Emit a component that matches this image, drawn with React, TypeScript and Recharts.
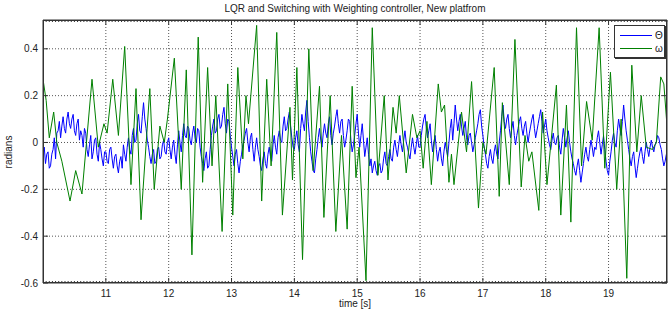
import { LineChart, Line, XAxis, YAxis, ReferenceLine, Legend } from 'recharts'

const TITLE = 'LQR and Switching with Weighting controller, New platfrom'
const X_LABEL = 'time [s]'
const Y_LABEL = 'radians'

const X_TICKS = [11, 12, 13, 14, 15, 16, 17, 18, 19]
const Y_TICKS = [-0.6, -0.4, -0.2, 0, 0.2, 0.4]
const Y_TICK_LABELS = ['-0.6', '-0.4', '-0.2', '0', '0.2', '0.4']

// omega (green), read at its peaks and troughs
const OMEGA_T = [
  10.0, 10.05, 10.1, 10.17, 10.22, 10.3, 10.43, 10.52, 10.62, 10.78, 10.88, 10.97,
  11.02, 11.11, 11.2, 11.3, 11.4, 11.48, 11.56, 11.7, 11.77, 11.86, 11.93, 11.98,
  12.09, 12.2, 12.28, 12.37, 12.47, 12.54, 12.62, 12.69, 12.75, 12.85, 12.94,
  13.02, 13.1, 13.18, 13.23, 13.27, 13.4, 13.48, 13.56, 13.63, 13.72, 13.81, 13.93, 13.97,
  14.04, 14.13, 14.23, 14.3, 14.4, 14.47, 14.57, 14.66, 14.75, 14.84, 14.92, 14.98,
  15.03, 15.14, 15.24, 15.33, 15.43, 15.49, 15.57, 15.62, 15.67, 15.78, 15.88, 15.95,
  16.0, 16.05, 16.11, 16.18, 16.29, 16.34, 16.39, 16.46, 16.5, 16.54, 16.66, 16.74, 16.82, 16.93,
  17.0, 17.05, 17.18, 17.26, 17.31, 17.42, 17.51, 17.61, 17.67, 17.73, 17.78, 17.89, 17.95,
  18.02, 18.17, 18.24, 18.33, 18.4, 18.49, 18.57, 18.65, 18.74, 18.85, 18.94,
  19.03, 19.13, 19.2, 19.29, 19.37, 19.45, 19.52, 19.6, 19.7, 19.76, 19.83, 19.88, 19.93,
]
const OMEGA_V = [
  0.27, 0.18, 0.02, 0.13, 0.0, -0.08, -0.25, -0.12, -0.22, 0.27, -0.02, 0.08,
  0.04, 0.27, 0.03, 0.41, -0.18, 0.23, -0.33, 0.23, -0.2, 0.07, 0.0, 0.1,
  0.36, -0.2, 0.31, -0.48, 0.45, -0.17, 0.32, -0.1, 0.2, -0.38, 0.25,
  -0.31, 0.32, -0.07, 0.2, 0.08, 0.5, -0.25, 0.27, -0.1, 0.47, -0.31, 0.15, -0.16,
  0.32, -0.5, 0.4, -0.12, 0.24, -0.32, 0.2, -0.38, 0.03, -0.37, 0.24, -0.15,
  -0.02, -0.59, 0.49, -0.14, 0.2, -0.16, 0.15, 0.04, 0.2, -0.13, 0.12, 0.02,
  0.05, -0.11, 0.09, -0.18, 0.25, 0.13, 0.16, -0.17, -0.05, -0.18, 0.13, -0.04, 0.26, -0.28,
  0.0, -0.05, 0.32, -0.23, 0.17, -0.18, 0.44, -0.19, 0.03, -0.08, -0.04, -0.29, 0.13,
  -0.18, 0.245, -0.31, 0.16, -0.34, 0.49, -0.1, 0.175, 0.01, 0.49, -0.11,
  0.3, -0.2, 0.1, -0.58, 0.33, -0.04, 0.2, -0.02, -0.03, 0.0, 0.28, 0.25, 0.07,
]

// theta (blue), read every 0.02 s from t = 10
const THETA_T0 = 10
const THETA_DT = 0.02
const THETA_V = [
  // 10 s
  -0.06, -0.02, -0.09, -0.05, -0.04, -0.11, -0.1, -0.05, -0.03, 0.02,
  -0.07, 0.04, 0.05, 0.09, 0.02, 0.07, 0.11, 0.06, 0.04, 0.1,
  0.13, 0.08, 0.06, 0.1, 0.12, 0.05, 0.03, 0.08, 0.1, 0.01,
  0.05, 0.03, -0.02, 0.06, 0.04, -0.03, -0.06, -0.01, 0.03, -0.07,
  -0.04, 0.01, 0.02, -0.05, -0.08, 0.0, -0.03, -0.07, -0.1, -0.04,
  // 11 s
  -0.04, -0.08, -0.09, -0.03, -0.02, -0.07, -0.11, -0.06, -0.05, -0.1,
  -0.13, -0.08, -0.06, -0.11, -0.01, -0.05, -0.08, -0.02, 0.02, -0.03,
  -0.05, 0.03, 0.06, 0.0, 0.01, 0.08, 0.12, 0.05, 0.04, 0.11,
  0.17, 0.1, 0.06, 0.01, -0.02, -0.06, -0.09, -0.05, -0.03, -0.09,
  -0.08, -0.03, -0.02, -0.07, -0.06, -0.01, 0.01, -0.04, -0.05, 0.0,
  // 12 s
  0.02, -0.03, -0.07, -0.02, 0.01, -0.05, -0.09, -0.01, 0.05, 0.0,
  -0.04, 0.03, 0.08, 0.03, 0.02, 0.07, 0.06, 0.01, -0.01, 0.04,
  0.07, 0.02, 0.0, 0.06, 0.05, -0.02, -0.06, -0.09, -0.12, -0.07,
  -0.04, -0.11, -0.1, -0.03, 0.03, 0.07, 0.1, 0.04, 0.05, 0.1,
  0.12, 0.06, 0.07, 0.12, 0.15, 0.08, 0.04, 0.1, 0.09, 0.03,
  // 13 s
  -0.02, -0.06, -0.1, -0.05, -0.03, -0.09, -0.13, -0.08, -0.05, -0.01,
  0.01, 0.04, 0.06, 0.0, -0.04, 0.02, 0.04, -0.03, -0.08, -0.02,
  0.02, -0.03, -0.06, -0.1, -0.12, -0.07, -0.04, -0.09, -0.11, -0.05,
  -0.02, -0.06, -0.08, -0.01, 0.03, -0.02, -0.05, 0.02, 0.05, 0.01,
  0.0, 0.07, 0.11, 0.05, 0.06, 0.1, 0.13, 0.07, 0.02, -0.02,
  // 14 s
  -0.03, 0.02, 0.05, -0.01, -0.04, 0.06, 0.12, 0.08, 0.05, 0.13,
  0.18, 0.09, 0.02, -0.04, -0.08, -0.12, -0.13, -0.07, -0.03, 0.02,
  0.06, 0.01, -0.02, 0.04, 0.08, 0.04, 0.02, 0.08, 0.11, 0.03,
  -0.01, 0.04, 0.07, 0.11, 0.14, 0.08, 0.04, 0.09, 0.1, 0.03,
  -0.02, 0.01, 0.05, 0.1, 0.09, 0.01, -0.04, -0.01, 0.03, 0.08,
  // 15 s
  0.12, 0.04, -0.02, 0.03, 0.08, 0.01, -0.06, -0.02, 0.02, -0.05,
  -0.1, -0.07, -0.13, -0.1, -0.08, -0.12, -0.14, -0.1, -0.09, -0.13,
  -0.12, -0.07, -0.04, -0.09, -0.1, -0.06, -0.03, -0.07, -0.08, -0.02,
  0.01, -0.03, -0.06, -0.01, 0.03, -0.01, -0.04, 0.01, 0.05, 0.0,
  -0.02, -0.05, -0.07, -0.02, 0.02, -0.02, -0.05, -0.01, 0.03, -0.02,
  // 16 s
  -0.02, 0.03, 0.07, 0.1, 0.12, 0.06, 0.02, 0.05, 0.08, 0.01,
  -0.04, 0.0, 0.03, -0.03, -0.08, -0.04, -0.02, -0.07, -0.1, -0.04,
  0.0, -0.03, -0.06, 0.0, 0.06, 0.1, 0.01, 0.08, 0.16, 0.1,
  0.05, 0.09, 0.12, 0.07, 0.03, 0.06, 0.09, 0.02, -0.01, 0.03,
  0.04, 0.0, -0.04, -0.01, 0.02, 0.05, 0.08, 0.12, 0.14, 0.07,
  // 17 s
  0.03, -0.02, -0.05, -0.09, -0.11, -0.06, -0.03, -0.07, -0.09, -0.04,
  -0.01, -0.05, -0.07, 0.0, 0.05, 0.11, 0.16, 0.09, 0.06, 0.1,
  0.12, 0.06, 0.02, 0.06, 0.09, 0.03, -0.01, 0.03, 0.06, 0.09,
  0.11, 0.06, 0.03, 0.07, 0.09, 0.04, 0.0, 0.04, 0.07, 0.1,
  0.12, 0.06, 0.02, 0.05, 0.08, 0.11, 0.14, 0.09, 0.04, 0.07,
  // 18 s
  0.1, 0.05, 0.02, -0.01, -0.03, 0.01, 0.04, 0.0, -0.01, 0.02,
  0.03, -0.02, -0.05, 0.01, 0.06, 0.02, -0.02, 0.02, 0.05, 0.0,
  -0.04, -0.07, -0.09, -0.12, -0.14, -0.1, -0.07, -0.12, -0.17, -0.13,
  -0.09, -0.05, -0.02, -0.06, -0.08, -0.03, 0.01, -0.02, -0.06, -0.02,
  -0.03, 0.02, 0.05, 0.0, -0.05, -0.01, 0.03, -0.03, -0.08, -0.12,
  // 19 s
  -0.14, -0.08, -0.04, 0.01, 0.04, 0.0, -0.02, 0.05, 0.1, 0.06,
  0.03, 0.09, 0.16, 0.1, 0.05, 0.01, -0.03, -0.07, -0.1, -0.06,
  -0.04, -0.1, -0.15, -0.11, -0.07, -0.04, -0.02, -0.06, -0.09, -0.04,
  0.0, -0.03, -0.06, -0.02, 0.01, -0.02, -0.04, -0.01, 0.0, 0.03,
  0.02, -0.01, -0.03, -0.07, -0.1, -0.08, -0.05,
]

const thetaData = THETA_V.map((v, i) => ({ t: +(THETA_T0 + i * THETA_DT).toFixed(2), v }))
const omegaData = OMEGA_T.map((t, i) => ({ t, v: OMEGA_V[i] }))

const X_DOMAIN = [10, 19.93]
const Y_DOMAIN = [-0.6, 0.523]

// minor ticks every 0.05 s
const X_ALL_TICKS = Array.from({ length: 199 }, (_, i) => +(10.05 + i * 0.05).toFixed(2))
const isMajor = (v: number) => X_TICKS.some((t) => Math.abs(t - v) < 1e-6)

const FONT = '"Liberation Sans", Arial, sans-serif'
const AXIS = '#333'

function BottomTick({ x, y, payload }: any) {
  const major = isMajor(payload.value)
  return (
    <g>
      <line x1={x} x2={x} y1={y} y2={y - (major ? 5 : 2)} stroke={AXIS} />
      {major && (
        <text x={x} y={y + 14} textAnchor="middle" fontSize={10} fontFamily={FONT} fill="#222">
          {payload.value}
        </text>
      )}
    </g>
  )
}

function TopTick({ x, y, payload }: any) {
  const major = isMajor(payload.value)
  return <line x1={x} x2={x} y1={y} y2={y + (major ? 5 : 2)} stroke={AXIS} />
}

function LeftTick({ x, y, payload }: any) {
  const i = Y_TICKS.findIndex((t) => Math.abs(t - payload.value) < 1e-6)
  return (
    <g>
      <line x1={x} x2={x + 5} y1={y} y2={y} stroke={AXIS} />
      <text x={x - 5} y={y + 3.5} textAnchor="end" fontSize={10} fontFamily={FONT} fill="#222">
        {Y_TICK_LABELS[i]}
      </text>
    </g>
  )
}

function RightTick({ x, y }: any) {
  return <line x1={x} x2={x - 5} y1={y} y2={y} stroke={AXIS} />
}

function FixedText({ px, py, text, rotate }: any) {
  return (
    <text
      x={px}
      y={py}
      textAnchor="middle"
      fontSize={10}
      fontFamily={FONT}
      fill="#222"
      transform={rotate ? `rotate(-90 ${px} ${py})` : undefined}
    >
      {text}
    </text>
  )
}

function LegendBox({ payload }: any) {
  return (
    <div
      style={{
        width: 51,
        height: 33,
        border: '1px solid #333',
        boxShadow: '1px 1px 0 #333',
        background: '#fff',
        fontFamily: FONT,
        fontSize: 10,
        paddingTop: 3,
        boxSizing: 'border-box',
      }}
    >
      {(payload || []).map((p: any) => (
        <div key={p.value} style={{ display: 'flex', alignItems: 'center', height: 13 }}>
          <span style={{ width: 32, marginLeft: 5, borderTop: `1px solid ${p.color}` }} />
          <span style={{ marginLeft: 3, color: '#222' }}>{p.value}</span>
        </div>
      ))}
    </div>
  )
}

export default function App() {
  return (
    <div style={{ position: 'absolute', left: 0, top: 0, width: 668, height: 311, background: '#fff' }}>
      <div
        style={{
          position: 'absolute',
          left: 0,
          top: 3,
          width: 710,
          textAlign: 'center',
          fontFamily: FONT,
          fontSize: 10,
          lineHeight: '12px',
          color: '#222',
          whiteSpace: 'nowrap',
        }}
      >
        {TITLE}
      </div>
      <LineChart width={668} height={311} margin={{ top: 19, right: 0, bottom: 0, left: 0 }}>
        <XAxis
          xAxisId="b"
          type="number"
          dataKey="t"
          domain={X_DOMAIN}
          allowDataOverflow
          ticks={X_ALL_TICKS}
          interval={0}
          height={28}
          tickSize={0}
          tickMargin={0}
          tick={<BottomTick />}
          axisLine={{ stroke: AXIS }}
          label={<FixedText px={355} py={307} text={X_LABEL} />}
        />
        <XAxis
          xAxisId="t"
          orientation="top"
          type="number"
          dataKey="t"
          domain={X_DOMAIN}
          allowDataOverflow
          ticks={X_ALL_TICKS}
          interval={0}
          height={1}
          tickSize={0}
          tickMargin={0}
          tick={<TopTick />}
          axisLine={{ stroke: AXIS }}
        />
        <YAxis
          yAxisId="l"
          type="number"
          domain={Y_DOMAIN}
          allowDataOverflow
          ticks={Y_TICKS}
          interval={0}
          width={43}
          tickSize={0}
          tickMargin={0}
          tick={<LeftTick />}
          axisLine={{ stroke: AXIS }}
          label={<FixedText px={12} py={152} text={Y_LABEL} rotate />}
        />
        <YAxis
          yAxisId="r"
          orientation="right"
          type="number"
          domain={Y_DOMAIN}
          allowDataOverflow
          ticks={Y_TICKS}
          interval={0}
          width={1}
          tickSize={0}
          tickMargin={0}
          tick={<RightTick />}
          axisLine={{ stroke: AXIS }}
        />
        {X_TICKS.map((t) => (
          <ReferenceLine key={`vx${t}`} xAxisId="b" yAxisId="l" x={t} stroke="#555" strokeDasharray="1 2" />
        ))}
        {Y_TICKS.slice(1).map((v) => (
          <ReferenceLine key={`hy${v}`} xAxisId="b" yAxisId="l" y={v} stroke="#555" strokeDasharray="1 2" />
        ))}
        <Line
          xAxisId="b"
          yAxisId="l"
          data={thetaData}
          dataKey="v"
          name="Θ"
          stroke="#0000ff"
          strokeWidth={1}
          dot={false}
          activeDot={false}
          isAnimationActive={false}
        />
        <Line
          xAxisId="t"
          yAxisId="r"
          data={omegaData}
          dataKey="v"
          name="ω"
          stroke="#008000"
          strokeWidth={1}
          dot={false}
          activeDot={false}
          isAnimationActive={false}
        />
        <Legend
          layout="vertical"
          align="center"
          verticalAlign="middle"
          content={<LegendBox />}
          wrapperStyle={{ left: 614, top: 25, width: 54, height: 35 }}
        />
      </LineChart>
      {/* plot frame */}
      <div
        style={{
          position: 'absolute',
          left: 43,
          top: 20,
          width: 624,
          height: 263,
          border: `1px solid ${AXIS}`,
          boxSizing: 'border-box',
          pointerEvents: 'none',
        }}
      />
    </div>
  )
}
